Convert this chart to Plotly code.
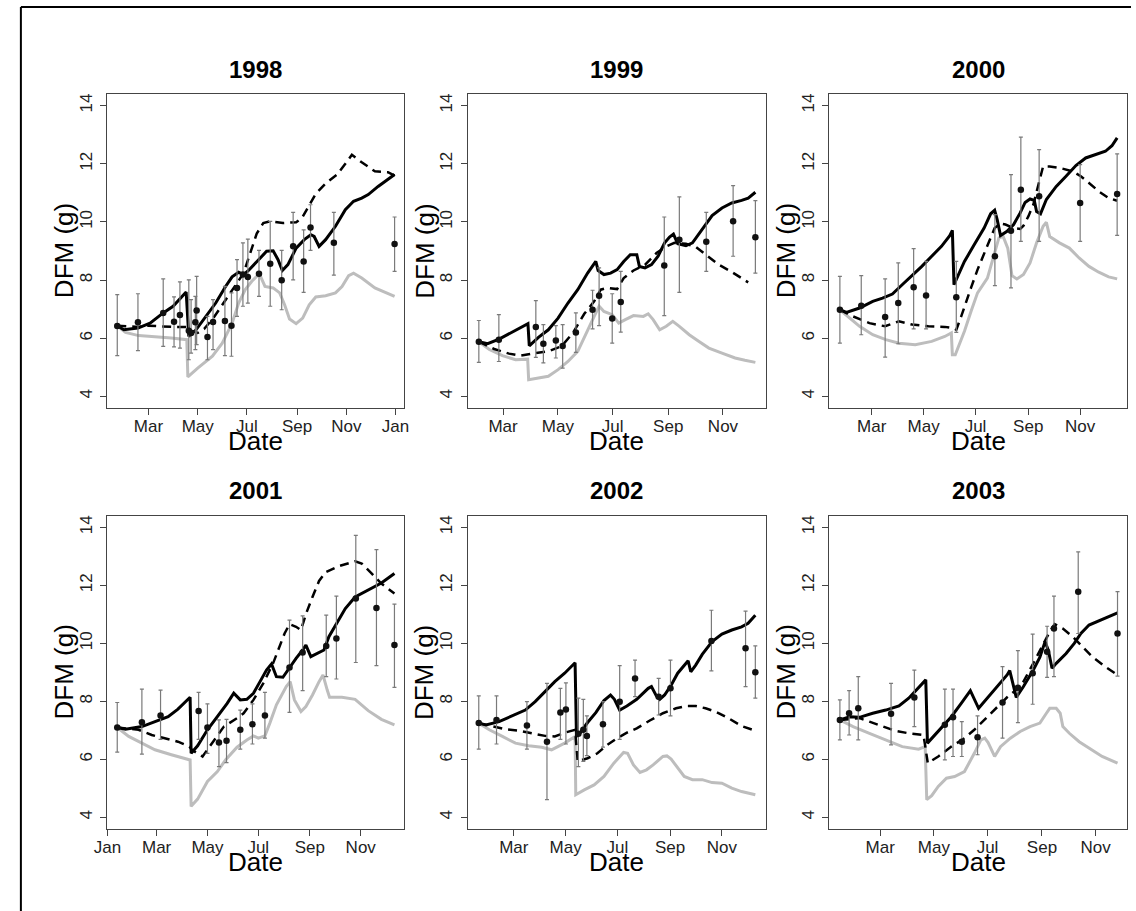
import numpy as np
import pandas as pd
import plotly.graph_objects as go

years = [1998, 1999, 2000, 2001, 2002, 2003]
tick_month_labels = ["Jan", "Mar", "May", "Jul", "Sep", "Nov"]
y_ticks = [4, 6, 8, 10, 12, 14]

# ---------------- observations (day of year, mean, upper, lower) ----------------
obs_doy_1998 = [21.4, 47.0, 78.3, 91.7, 99.0, 110.0, 112.8, 118.1, 119.7, 133.1, 140.0, 154.7, 162.8, 169.7, 177.0, 183.1, 196.9, 210.8, 225.0, 239.2, 252.2, 260.7, 289.6, 364.8]
obs_val_1998 = [6.42, 6.55, 6.87, 6.57, 6.80, 6.26, 6.18, 6.55, 6.95, 6.04, 6.56, 6.59, 6.43, 7.73, 8.19, 8.11, 8.22, 8.56, 7.99, 9.16, 8.64, 9.81, 9.28, 9.24]
obs_hi_1998 = [7.50, 7.53, 8.04, 7.42, 7.94, 8.01, 7.33, 7.44, 8.13, 6.75, 7.33, 7.78, 7.56, 8.70, 9.28, 9.41, 9.02, 10.02, 9.02, 10.33, 9.73, 10.59, 10.33, 10.17]
obs_lo_1998 = [5.40, 5.57, 5.72, 5.70, 5.66, 5.26, 5.49, 5.61, 5.78, 5.26, 5.61, 5.40, 5.38, 6.75, 7.10, 7.21, 7.44, 7.10, 6.98, 8.01, 7.58, 9.02, 8.17, 8.30]

obs_doy_1999 = [33.0, 55.3, 96.5, 104.9, 118.8, 126.4, 141.1, 159.7, 167.0, 181.6, 191.1, 239.6, 256.4, 286.4, 316.3, 341.1]
obs_val_1999 = [5.88, 5.95, 6.39, 5.81, 5.92, 5.73, 6.20, 6.98, 7.46, 6.68, 7.25, 8.50, 9.39, 9.32, 10.02, 9.47]
obs_hi_1999 = [6.61, 6.81, 7.29, 6.47, 6.43, 6.47, 6.87, 7.65, 8.42, 7.53, 8.30, 10.17, 10.86, 10.33, 11.25, 10.73]
obs_lo_1999 = [5.17, 5.20, 5.34, 5.15, 5.32, 4.97, 5.51, 6.32, 6.43, 5.83, 6.21, 6.78, 7.58, 8.30, 8.82, 8.24]

obs_doy_2000 = [23.6, 48.7, 76.8, 92.2, 110.3, 124.9, 160.4, 205.8, 224.7, 236.3, 257.8, 306.0, 349.5]
obs_val_2000 = [6.98, 7.12, 6.73, 7.21, 7.75, 7.47, 7.41, 8.82, 9.70, 11.11, 10.88, 10.65, 10.96]
obs_hi_2000 = [8.13, 8.15, 8.04, 8.59, 9.08, 8.64, 8.64, 10.25, 11.63, 12.92, 12.49, 11.97, 12.34]
obs_lo_2000 = [5.83, 6.12, 5.35, 5.81, 6.32, 6.32, 6.20, 7.81, 7.73, 9.33, 9.33, 9.33, 9.54]

obs_doy_2001 = [12.7, 42.3, 64.7, 110.4, 121.0, 134.8, 143.9, 160.4, 175.0, 190.0, 219.5, 235.3, 263.6, 275.8, 299.1, 323.9, 345.5]
obs_val_2001 = [7.10, 7.28, 7.51, 7.67, 7.10, 6.58, 6.64, 7.02, 7.21, 7.51, 9.17, 9.68, 9.91, 10.17, 11.55, 11.22, 9.94]
obs_hi_2001 = [7.96, 8.42, 8.39, 8.31, 7.91, 7.36, 7.38, 7.70, 7.91, 8.31, 10.80, 10.95, 10.97, 11.63, 13.72, 13.23, 11.35]
obs_lo_2001 = [6.25, 6.18, 6.69, 6.69, 6.21, 5.75, 5.89, 6.35, 6.53, 6.73, 7.62, 8.37, 8.85, 8.77, 9.34, 9.23, 8.48]

obs_doy_2002 = [18.7, 39.6, 75.4, 99.0, 114.8, 121.3, 136.0, 141.8, 146.0, 164.9, 184.6, 202.7, 230.5, 244.4, 292.6, 332.8, 344.3]
obs_val_2002 = [7.25, 7.36, 7.17, 6.61, 7.62, 7.72, 6.88, 7.02, 6.81, 7.21, 7.99, 8.79, 8.16, 8.45, 10.08, 9.83, 9.00]
obs_hi_2002 = [8.19, 8.19, 7.99, 8.62, 8.45, 8.64, 8.11, 8.07, 7.50, 7.99, 9.23, 9.42, 8.79, 9.42, 11.14, 11.11, 9.91]
obs_lo_2002 = [6.35, 6.53, 6.35, 4.61, 6.69, 6.53, 5.75, 5.93, 6.13, 6.42, 6.69, 8.16, 7.53, 7.50, 9.05, 8.51, 8.11]

obs_doy_2003 = [14.1, 24.6, 35.0, 72.3, 98.8, 133.5, 142.8, 152.8, 170.7, 199.1, 216.6, 233.4, 249.8, 257.6, 285.2, 329.9]
obs_val_2003 = [7.36, 7.59, 7.76, 7.57, 8.13, 7.19, 7.45, 6.61, 6.76, 7.96, 8.47, 8.97, 9.71, 10.51, 11.78, 10.34]
obs_hi_2003 = [8.05, 8.37, 8.85, 8.62, 9.08, 8.42, 8.42, 7.30, 7.50, 9.20, 9.75, 10.32, 10.59, 11.63, 13.15, 11.78]
obs_lo_2003 = [6.67, 6.84, 6.67, 6.50, 7.13, 5.98, 6.10, 6.10, 6.16, 6.73, 7.27, 7.90, 8.83, 8.85, 10.34, 8.87]

# ---------------- model A (solid black) ----------------
solid_doy_1998 = [21.4, 29.5, 47.0, 62.0, 78.3, 90.5, 106.7, 110.0, 118.9, 131.1, 143.3, 155.5, 163.6, 171.7, 177.8, 183.9, 196.1, 206.3, 214.4, 220.5, 225.8, 232.7, 242.9, 253.0, 261.1, 265.2, 271.3, 279.4, 291.6, 303.8, 314.0, 324.1, 332.2, 344.4, 364.8]
solid_val_1998 = [6.43, 6.29, 6.35, 6.52, 6.87, 7.10, 7.59, 6.06, 6.29, 6.75, 7.21, 7.78, 8.11, 8.27, 8.19, 8.33, 8.70, 8.99, 9.01, 8.70, 8.33, 8.53, 9.10, 9.39, 9.56, 9.50, 9.16, 9.39, 9.85, 10.42, 10.71, 10.82, 10.94, 11.22, 11.63]

solid_doy_1999 = [33.0, 42.8, 55.6, 70.2, 79.4, 87.7, 89.2, 99.4, 110.4, 121.3, 132.3, 143.2, 154.2, 163.3, 165.9, 172.4, 179.8, 187.1, 194.4, 201.7, 209.0, 211.9, 218.1, 225.4, 232.7, 240.0, 245.5, 249.8, 254.6, 263.7, 271.0, 282.0, 292.9, 303.9, 314.8, 325.8, 333.1, 341.1]
solid_val_1999 = [5.88, 5.81, 5.97, 6.20, 6.35, 6.50, 5.74, 6.03, 6.29, 6.69, 7.21, 7.67, 8.24, 8.64, 8.33, 8.19, 8.24, 8.36, 8.64, 8.87, 8.87, 8.47, 8.42, 8.53, 8.82, 9.28, 9.48, 9.58, 9.25, 9.18, 9.28, 9.76, 10.22, 10.48, 10.65, 10.74, 10.82, 11.02]

solid_doy_2000 = [23.6, 31.3, 46.7, 62.2, 73.7, 85.3, 96.8, 108.4, 119.9, 131.5, 143.0, 152.7, 155.8, 157.7, 170.0, 181.6, 193.1, 200.8, 205.5, 208.5, 212.4, 220.1, 227.8, 235.5, 241.3, 247.1, 252.1, 254.8, 259.4, 266.3, 277.9, 289.4, 301.0, 312.5, 324.1, 335.7, 343.4, 349.5]
solid_val_2000 = [6.98, 6.89, 7.04, 7.27, 7.38, 7.52, 7.84, 8.15, 8.47, 8.82, 9.16, 9.53, 9.71, 7.84, 8.64, 9.22, 9.79, 10.28, 10.40, 10.08, 9.53, 9.68, 9.91, 10.31, 10.67, 10.79, 10.74, 10.36, 10.28, 10.77, 11.22, 11.57, 11.94, 12.20, 12.31, 12.43, 12.62, 12.89]

solid_doy_2001 = [12.7, 22.6, 42.3, 58.0, 73.8, 85.6, 95.4, 100.2, 101.4, 109.2, 121.0, 132.9, 144.7, 152.6, 160.4, 168.3, 176.2, 184.1, 191.9, 197.9, 203.8, 211.6, 217.5, 227.4, 235.3, 239.2, 245.1, 253.0, 260.9, 266.8, 276.6, 286.5, 298.3, 310.1, 321.9, 329.8, 345.5]
solid_val_2001 = [7.10, 7.04, 7.13, 7.30, 7.47, 7.73, 8.03, 8.14, 6.21, 6.47, 7.02, 7.47, 7.93, 8.28, 8.05, 8.07, 8.28, 8.68, 9.08, 9.29, 8.85, 8.83, 9.08, 9.48, 9.77, 9.94, 9.54, 9.65, 9.77, 10.23, 10.69, 11.20, 11.60, 11.78, 11.95, 12.08, 12.41]

solid_doy_2002 = [18.7, 27.2, 42.6, 58.1, 73.5, 85.1, 96.7, 108.2, 119.8, 132.1, 133.7, 138.3, 146.8, 156.5, 166.1, 173.8, 178.4, 184.6, 193.1, 204.7, 218.2, 222.0, 227.8, 231.7, 237.5, 245.2, 252.9, 260.6, 265.2, 268.3, 274.1, 281.8, 293.4, 305.0, 316.6, 328.1, 335.8, 344.3]
solid_val_2002 = [7.25, 7.19, 7.30, 7.50, 7.70, 7.99, 8.33, 8.68, 8.97, 9.33, 6.79, 6.92, 7.27, 7.61, 8.03, 8.22, 8.07, 7.70, 7.84, 8.07, 8.45, 8.51, 8.19, 8.07, 8.22, 8.56, 8.97, 9.22, 9.40, 9.02, 9.25, 9.62, 10.06, 10.32, 10.46, 10.57, 10.69, 10.97]

solid_doy_2003 = [14.1, 25.3, 36.5, 51.4, 66.3, 81.3, 92.4, 105.5, 111.8, 113.7, 126.0, 140.9, 152.1, 162.5, 171.9, 182.0, 193.1, 204.3, 207.3, 214.7, 222.9, 234.1, 241.6, 247.5, 251.3, 255.4, 260.2, 271.4, 280.7, 288.2, 297.5, 308.7, 319.9, 329.9]
solid_val_2003 = [7.36, 7.47, 7.45, 7.59, 7.70, 7.84, 8.11, 8.56, 8.74, 6.56, 6.96, 7.47, 7.93, 8.37, 7.76, 8.11, 8.51, 8.91, 9.06, 8.14, 8.51, 9.08, 9.52, 10.06, 9.75, 9.14, 9.31, 9.65, 10.00, 10.34, 10.63, 10.78, 10.92, 11.05]

# ---------------- model B (dashed black) ----------------
dash_doy_1998 = [21.4, 47.8, 60.0, 88.4, 107.5, 110.0, 121.0, 129.1, 141.3, 153.5, 165.6, 177.8, 186.0, 194.1, 202.2, 210.3, 226.6, 242.9, 250.2, 259.1, 267.2, 279.4, 293.6, 303.8, 311.9, 324.1, 340.4, 356.6, 364.8]
dash_val_1998 = [6.43, 6.39, 6.43, 6.39, 6.39, 6.29, 6.18, 6.32, 6.73, 7.21, 7.73, 8.24, 8.93, 9.60, 9.96, 10.02, 9.96, 9.99, 10.14, 10.59, 10.97, 11.32, 11.63, 12.00, 12.31, 12.05, 11.74, 11.71, 11.59]

dash_doy_1999 = [33.0, 50.1, 66.6, 79.4, 95.8, 110.4, 125.0, 137.8, 150.5, 161.5, 168.8, 176.1, 187.1, 194.4, 205.3, 218.3, 230.9, 241.8, 250.9, 263.7, 274.7, 285.6, 300.2, 314.8, 333.1]
dash_val_1999 = [5.88, 5.63, 5.47, 5.40, 5.49, 5.55, 5.72, 6.18, 6.84, 7.27, 7.67, 7.73, 7.69, 8.07, 8.33, 8.53, 8.93, 9.16, 9.28, 9.25, 9.14, 8.87, 8.53, 8.28, 7.92]

dash_doy_2000 = [23.6, 39.0, 58.3, 76.8, 93.0, 108.4, 127.6, 146.9, 157.7, 160.4, 166.2, 172.0, 177.7, 185.4, 193.1, 200.8, 205.5, 212.4, 218.2, 227.8, 235.5, 239.4, 245.1, 250.9, 254.8, 257.8, 262.5, 270.2, 281.7, 297.1, 306.8, 316.4, 327.9, 339.5, 349.5]
dash_val_2000 = [6.98, 6.75, 6.52, 6.41, 6.58, 6.47, 6.41, 6.39, 6.34, 6.29, 6.75, 7.21, 7.73, 8.36, 8.93, 9.50, 9.79, 9.94, 9.91, 9.79, 9.76, 9.87, 10.19, 10.59, 11.05, 11.45, 11.91, 11.91, 11.86, 11.74, 11.57, 11.34, 11.05, 10.82, 10.73]

dash_doy_2001 = [12.7, 38.3, 54.1, 69.8, 85.6, 99.4, 102.1, 115.1, 121.0, 128.9, 140.7, 156.5, 164.4, 176.2, 188.0, 199.8, 207.7, 213.6, 219.5, 227.4, 233.3, 239.2, 247.1, 255.0, 262.8, 278.6, 298.3, 306.2, 318.0, 329.8, 345.5]
dash_val_2001 = [7.10, 7.02, 6.84, 6.73, 6.61, 6.44, 6.33, 6.10, 6.33, 6.67, 7.13, 7.42, 7.59, 8.05, 8.62, 9.31, 9.88, 10.34, 10.66, 10.57, 10.46, 11.01, 11.60, 12.15, 12.45, 12.66, 12.83, 12.75, 12.41, 12.06, 11.72]

dash_doy_2002 = [18.7, 34.9, 50.4, 65.8, 81.2, 96.7, 108.2, 119.8, 132.1, 135.2, 146.8, 158.4, 170.0, 181.5, 193.1, 204.7, 220.1, 235.5, 251.0, 262.5, 274.1, 285.7, 297.3, 312.7, 328.1, 344.3]
dash_val_2002 = [7.25, 7.13, 7.04, 6.99, 6.90, 6.81, 6.79, 6.92, 7.02, 5.93, 6.04, 6.21, 6.50, 6.73, 6.92, 7.07, 7.34, 7.59, 7.76, 7.84, 7.84, 7.76, 7.65, 7.42, 7.15, 6.99]

dash_doy_2003 = [14.1, 36.5, 47.7, 62.6, 77.5, 92.4, 109.2, 114.1, 126.0, 140.9, 155.8, 167.0, 178.2, 189.4, 204.3, 215.5, 222.9, 234.1, 245.3, 252.8, 258.4, 267.7, 278.9, 290.1, 301.2, 316.2, 329.9]
dash_val_2003 = [7.36, 7.42, 7.30, 7.13, 6.98, 6.90, 6.84, 5.87, 6.10, 6.44, 6.73, 7.02, 7.36, 7.70, 8.14, 8.42, 8.68, 9.31, 9.97, 10.40, 10.66, 10.51, 10.23, 9.88, 9.54, 9.19, 8.91]

# ---------------- model C (grey) ----------------
grey_doy_1998 = [21.4, 31.6, 47.8, 68.1, 88.4, 107.5, 108.8, 121.0, 139.2, 151.4, 163.6, 171.7, 179.9, 188.0, 197.3, 204.3, 214.4, 222.5, 228.6, 234.7, 242.9, 251.0, 259.1, 267.2, 279.4, 291.6, 299.7, 307.9, 314.0, 324.1, 340.4, 364.8]
grey_val_1998 = [6.43, 6.20, 6.09, 6.06, 6.01, 5.95, 4.67, 4.97, 5.38, 5.83, 6.52, 7.21, 7.67, 7.96, 8.22, 7.78, 7.73, 7.56, 7.15, 6.66, 6.50, 6.69, 7.15, 7.42, 7.46, 7.56, 7.78, 8.15, 8.24, 8.07, 7.73, 7.44]

grey_doy_1999 = [33.0, 44.7, 59.3, 73.9, 87.4, 88.5, 99.4, 110.4, 121.3, 132.3, 143.2, 152.4, 161.5, 167.0, 172.4, 181.6, 188.9, 196.2, 205.3, 216.3, 221.7, 227.2, 234.5, 241.8, 249.1, 256.4, 267.4, 278.3, 289.3, 303.9, 318.5, 329.4, 341.1]
grey_val_1999 = [5.88, 5.61, 5.40, 5.26, 5.28, 4.57, 4.63, 4.69, 4.92, 5.20, 5.55, 6.18, 6.75, 7.10, 6.92, 6.81, 6.52, 6.64, 6.78, 6.75, 6.84, 6.64, 6.29, 6.41, 6.58, 6.41, 6.12, 5.89, 5.66, 5.49, 5.32, 5.24, 5.17]

grey_doy_2000 = [23.6, 35.2, 46.7, 62.2, 77.6, 93.0, 112.2, 131.5, 146.9, 154.6, 155.8, 159.2, 170.0, 177.7, 185.4, 197.0, 204.7, 210.5, 215.5, 220.9, 225.9, 231.6, 239.4, 247.1, 254.8, 262.5, 266.3, 270.2, 281.7, 293.3, 304.8, 316.4, 327.9, 339.5, 349.5]
grey_val_2000 = [6.98, 6.69, 6.41, 6.12, 5.95, 5.83, 5.78, 5.89, 6.06, 6.18, 5.43, 5.43, 6.24, 6.92, 7.56, 8.07, 8.82, 9.45, 9.50, 9.10, 8.15, 8.04, 8.19, 8.59, 9.28, 9.85, 9.99, 9.50, 9.28, 9.10, 8.76, 8.47, 8.27, 8.11, 8.04]

grey_doy_2001 = [12.7, 26.5, 42.3, 58.0, 77.7, 100.2, 101.4, 109.2, 121.0, 132.9, 142.7, 156.5, 168.3, 176.2, 182.1, 190.0, 195.9, 203.8, 215.6, 220.3, 225.4, 233.3, 239.2, 247.1, 255.0, 259.7, 264.8, 267.6, 282.5, 298.3, 314.0, 329.8, 345.5]
grey_val_2001 = [7.10, 6.79, 6.56, 6.33, 6.16, 5.98, 4.38, 4.63, 5.24, 5.58, 5.98, 6.42, 6.67, 6.81, 6.73, 6.81, 7.25, 7.88, 8.51, 8.68, 8.05, 7.65, 7.82, 8.22, 8.68, 8.91, 8.39, 8.14, 8.14, 8.07, 7.68, 7.38, 7.19]

grey_doy_2002 = [18.7, 31.1, 46.5, 61.9, 77.4, 92.8, 104.4, 119.8, 132.1, 132.9, 142.9, 154.5, 166.1, 177.7, 189.2, 193.9, 200.8, 208.5, 216.2, 224.0, 235.5, 240.2, 245.2, 252.9, 260.6, 270.3, 281.8, 293.4, 305.0, 316.6, 328.1, 344.3]
grey_val_2002 = [7.25, 7.02, 6.79, 6.56, 6.47, 6.42, 6.33, 6.56, 6.79, 4.78, 4.95, 5.12, 5.41, 5.87, 6.24, 6.21, 5.81, 5.55, 5.64, 5.81, 6.10, 6.12, 6.01, 5.70, 5.41, 5.30, 5.30, 5.20, 5.18, 5.01, 4.89, 4.78]

grey_doy_2003 = [14.1, 29.1, 47.7, 66.3, 85.0, 103.6, 111.1, 112.9, 118.5, 126.0, 135.3, 144.6, 155.8, 167.0, 174.5, 178.9, 182.7, 190.1, 196.8, 208.0, 219.2, 230.4, 241.6, 249.0, 252.8, 260.2, 264.7, 267.7, 275.1, 286.3, 297.5, 312.4, 329.9]
grey_val_2003 = [7.36, 7.13, 6.90, 6.67, 6.44, 6.35, 6.44, 4.61, 4.75, 5.07, 5.35, 5.41, 5.58, 6.21, 6.67, 6.73, 6.58, 6.10, 6.44, 6.73, 6.96, 7.13, 7.25, 7.59, 7.76, 7.76, 7.59, 7.13, 6.90, 6.61, 6.39, 6.10, 5.87]

# visible x window of each panel (day of year)
xwin_doy = {1998: (9.2, 376.9), 1999: (20.9, 352.4), 2000: (11.3, 361.5),
            2001: (0.9, 357.4), 2002: (6.0, 356.3), 2003: (2.2, 341.1)}

g = globals()
panels = {}
for yr in years:
    panels[yr] = {k: g[f"{k}_{yr}"] for k in
                  ["obs_doy", "obs_val", "obs_hi", "obs_lo", "solid_doy", "solid_val",
                   "dash_doy", "dash_val", "grey_doy", "grey_val"]}


def to_dates(yr, doy):
    return pd.Timestamp(yr, 1, 1) + pd.to_timedelta(np.asarray(doy, float) - 1.0, unit="D")


W, H = 1136, 911
col_px = [(95.0, 397.0), (461.7, 764.3), (829.3, 1132.3)]
row_px = [(94.0, 408.0), (515.7, 829.0)]
FONT = "Liberation Sans, Arial, sans-serif"

fig = go.Figure()
annotations = []
layout = {}
for i, yr in enumerate(years):
    r, c = divmod(i, 3)
    n = i + 1
    xs = "" if n == 1 else str(n)
    xref, yref = f"x{xs}", f"y{xs}"
    d = panels[yr]

    fig.add_trace(go.Scatter(x=to_dates(yr, d["grey_doy"]), y=d["grey_val"], mode="lines",
                             line=dict(color="#bdbdbd", width=3), xaxis=xref, yaxis=yref,
                             showlegend=False, hoverinfo="skip"))
    fig.add_trace(go.Scatter(x=to_dates(yr, d["dash_doy"]), y=d["dash_val"], mode="lines",
                             line=dict(color="black", width=2.5, dash="9px,6px"),
                             xaxis=xref, yaxis=yref, showlegend=False, hoverinfo="skip"))
    fig.add_trace(go.Scatter(x=to_dates(yr, d["solid_doy"]), y=d["solid_val"], mode="lines",
                             line=dict(color="black", width=3), xaxis=xref, yaxis=yref,
                             showlegend=False, hoverinfo="skip"))
    val = np.array(d["obs_val"])
    fig.add_trace(go.Scatter(x=to_dates(yr, d["obs_doy"]), y=val, mode="markers",
                             marker=dict(color="#111", size=6.5),
                             error_y=dict(type="data", symmetric=False,
                                          array=np.array(d["obs_hi"]) - val,
                                          arrayminus=val - np.array(d["obs_lo"]),
                                          color="#7a7a7a", thickness=1.2, width=2),
                             xaxis=xref, yaxis=yref, showlegend=False))

    x0, x1 = col_px[c]
    y0, y1 = row_px[r]
    wlo, whi = xwin_doy[yr]
    rng = [to_dates(yr, [wlo])[0], to_dates(yr, [whi])[0]]
    cands = [pd.Timestamp(yr, m, 1) for m in [1, 3, 5, 7, 9, 11]] + [pd.Timestamp(yr + 1, 1, 1)]
    labs = tick_month_labels + ["Jan"]
    tv, tt = [], []
    for dt, lb in zip(cands, labs):
        if rng[0] <= dt <= rng[1]:
            tv.append(dt)
            tt.append(lb)

    layout[f"xaxis{xs}"] = dict(domain=[x0 / W, x1 / W], anchor=yref, range=rng, type="date",
                                tickvals=tv, ticktext=tt, ticks="outside", ticklen=6,
                                ticklabelstandoff=-4,
                                tickcolor="#444", showline=True, linecolor="#444", linewidth=1.2,
                                mirror=True, showgrid=False, zeroline=False,
                                tickfont=dict(family=FONT, size=17, color="#222"))
    layout[f"yaxis{xs}"] = dict(domain=[1 - y1 / H, 1 - y0 / H], anchor=xref, range=[3.6, 14.4],
                                tickvals=y_ticks, ticks="outside", ticklen=6, tickangle=-90,
                                ticklabelstandoff=2,
                                tickcolor="#444", showline=True, linecolor="#444", linewidth=1.2,
                                mirror=True, showgrid=False, zeroline=False,
                                tickfont=dict(family=FONT, size=17, color="#222"))

    cx = (x0 + x1) / 2
    cy = (y0 + y1) / 2
    annotations.append(dict(text=f"<b>{yr}</b>", x=cx / W, y=1 - (y0 - 25) / H, xref="paper",
                            yref="paper", showarrow=False, xanchor="center", yanchor="middle",
                            font=dict(family=FONT, size=24, color="black")))
    annotations.append(dict(text="DFM (g)", x=(x0 - 44) / W, y=1 - cy / H, xref="paper",
                            yref="paper", showarrow=False, textangle=-90, xanchor="center",
                            yanchor="middle", font=dict(family=FONT, size=26, color="black")))
    annotations.append(dict(text="Date", x=cx / W, y=1 - (y1 + 33) / H, xref="paper",
                            yref="paper", showarrow=False, xanchor="center", yanchor="middle",
                            font=dict(family=FONT, size=26, color="black")))

shapes = [
    dict(type="line", xref="paper", yref="paper", x0=7 / W, x1=7 / W, y0=1 - 7 / H, y1=0,
         line=dict(color="black", width=2)),
    dict(type="line", xref="paper", yref="paper", x0=7 / W, x1=1, y0=1 - 7 / H, y1=1 - 7 / H,
         line=dict(color="black", width=2)),
]

fig.update_layout(width=W, height=H, margin=dict(l=0, r=0, t=0, b=0),
                  paper_bgcolor="white", plot_bgcolor="white",
                  annotations=annotations, shapes=shapes, **layout)
fig.write_html("out.html", config={"displayModeBar": False},
               post_script="document.body.style.margin='0px';document.body.style.overflow='hidden';")
